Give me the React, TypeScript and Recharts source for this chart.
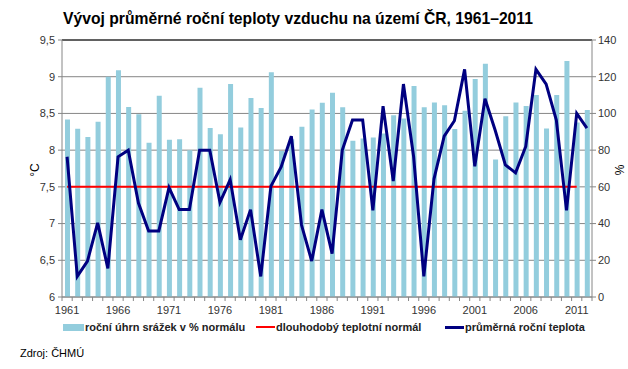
import React from 'react';
import { ComposedChart, Bar, Line, XAxis, YAxis, CartesianGrid, ReferenceLine } from 'recharts';

const years = [
  '1961', '1962', '1963', '1964', '1965', '1966', '1967', '1968', '1969', '1970',
  '1971', '1972', '1973', '1974', '1975', '1976', '1977', '1978', '1979', '1980',
  '1981', '1982', '1983', '1984', '1985', '1986', '1987', '1988', '1989', '1990',
  '1991', '1992', '1993', '1994', '1995', '1996', '1997', '1998', '1999', '2000',
  '2001', '2002', '2003', '2004', '2005', '2006', '2007', '2008', '2009', '2010',
  '2011', '2012',
];

// roční úhrn srážek v % normálu
const precipitation = [
  96.7, 91.6, 87.1, 95.5, 120, 123.5, 103.5, 99.6, 84, 109.6,
  85.6, 86, 80, 114, 92, 88.7, 116, 92.4, 108.4, 103,
  122.4, 79.6, 86, 92.7, 102.2, 105.8, 111.3, 103.3, 85.1, 86.4,
  86.9, 89, 99, 97.3, 115, 103.3, 106, 104.5, 91.5, 101.5,
  118.7, 127, 74.9, 98.5, 106, 104, 110, 91.8, 110, 128.5,
  95, 101.8,
];

// průměrná roční teplota (°C)
const temperature = [
  7.91, 6.28, 6.49, 7.01, 6.39, 7.91, 8.0, 7.28, 6.9, 6.9,
  7.49, 7.19, 7.19, 8.0, 8.0, 7.29, 7.6, 6.78, 7.19, 6.28,
  7.51, 7.77, 8.19, 6.98, 6.49, 7.19, 6.59, 8.0, 8.41, 8.41,
  7.18, 8.6, 7.58, 8.9, 7.91, 6.28, 7.61, 8.19, 8.4, 9.1,
  7.78, 8.7, 8.27, 7.8, 7.69, 8.05, 9.1, 8.9, 8.41, 7.18,
  8.5, 8.3,
];

// dlouhodobý teplotní normál (°C)
const normal: (number | null)[] = [
  7.5, 7.5, 7.5, 7.5, 7.5, 7.5, 7.5, 7.5, 7.5, 7.5,
  7.5, 7.5, 7.5, 7.5, 7.5, 7.5, 7.5, 7.5, 7.5, 7.5,
  7.5, 7.5, 7.5, 7.5, 7.5, 7.5, 7.5, 7.5, 7.5, 7.5,
  7.5, 7.5, 7.5, 7.5, 7.5, 7.5, 7.5, 7.5, 7.5, 7.5,
  7.5, 7.5, 7.5, 7.5, 7.5, 7.5, 7.5, 7.5, 7.5, 7.5,
  7.5, null,
];

const leftTicks = [6, 6.5, 7, 7.5, 8, 8.5, 9, 9.5];
const rightTicks = [0, 20, 40, 60, 80, 100, 120, 140];
const labelYears = ['1961', '1966', '1971', '1976', '1981', '1986', '1991', '1996', '2001', '2006', '2011'];

const title = 'Vývoj průměrné roční teploty vzduchu na území ČR, 1961–2011';
const legendPrecip = 'roční úhrn srážek v % normálu';
const legendNormal = 'dlouhodobý teplotní normál';
const legendTemp = 'průměrná roční teplota';
const source = 'Zdroj: ČHMÚ';

const data = years.map((y, i) => ({
  year: y,
  precip: precipitation[i],
  temp: temperature[i],
  normal: normal[i],
}));

const W = 628;
const H = 369;
const MARGIN = { top: 40, right: 0, bottom: 52, left: 32 };
const LEFT_W = 30;
const RIGHT_W = 36;
const X_H = 20;
const PLOT_W = W - MARGIN.left - MARGIN.right - LEFT_W - RIGHT_W;
const BAND = PLOT_W / years.length;

const FONT = '"Liberation Sans", Arial, sans-serif';
const GRID = '#868686';
const TEXT = '#333';
const BAR = '#93CDDD';
const NAVY = '#000080';
const RED = '#FF0000';

const XTick = (props: any) => {
  const { x, y, payload, index } = props;
  const show = labelYears.includes(String(payload.value));
  return (
    <g>
      <line x1={x - BAND / 2} x2={x - BAND / 2} y1={y} y2={y + 4} stroke={GRID} />
      {index === years.length - 1 && (
        <line x1={x + BAND / 2} x2={x + BAND / 2} y1={y} y2={y + 4} stroke={GRID} />
      )}
      {show && (
        <text x={x} y={y + 17} textAnchor="middle" fontSize={11} fill={TEXT} fontFamily={FONT}>
          {payload.value}
        </text>
      )}
    </g>
  );
};

const fmt = (v: number) => String(v).replace('.', ',');

export default function App() {
  return (
    <div style={{ position: 'absolute', left: 0, top: 0, width: W, height: H, background: '#fff', fontFamily: FONT }}>
      <div style={{ position: 'absolute', left: 63, top: 10, fontSize: 15.7, fontWeight: 'bold', lineHeight: '18px', color: '#000', whiteSpace: 'nowrap' }}>
        {title}
      </div>
      <ComposedChart width={W} height={H} data={data} margin={MARGIN} style={{ fontFamily: FONT }}>
        <CartesianGrid yAxisId="left" horizontal vertical={false} stroke={GRID} />
        <XAxis
          dataKey="year"
          height={X_H}
          interval={0}
          tickSize={0}
          tickMargin={0}
          tickLine={false}
          axisLine={{ stroke: GRID }}
          tick={<XTick />}
        />
        <YAxis
          yAxisId="left"
          orientation="left"
          width={LEFT_W}
          domain={[6, 9.5]}
          ticks={leftTicks}
          interval={0}
          tickFormatter={fmt}
          tickSize={4}
          tickMargin={3}
          tickLine={{ stroke: GRID }}
          axisLine={{ stroke: GRID }}
          tick={{ fontSize: 11, fill: TEXT }}
        />
        <YAxis
          yAxisId="right"
          orientation="right"
          width={RIGHT_W}
          domain={[0, 140]}
          ticks={rightTicks}
          interval={0}
          tickSize={4}
          tickMargin={2}
          tickLine={{ stroke: GRID }}
          axisLine={{ stroke: GRID }}
          tick={{ fontSize: 11, fill: TEXT }}
        />
        <ReferenceLine yAxisId="left" y={9.5} stroke="#000" strokeWidth={1} />
        <Bar yAxisId="right" dataKey="precip" fill={BAR} barSize={5} isAnimationActive={false} />
        <Line yAxisId="left" type="linear" dataKey="normal" stroke={RED} strokeWidth={2} dot={false} isAnimationActive={false} connectNulls={false} />
        <Line yAxisId="left" type="linear" dataKey="temp" stroke={NAVY} strokeWidth={3} dot={false} isAnimationActive={false} />
      </ComposedChart>
      <div style={{ position: 'absolute', left: 35, top: 170, transform: 'translate(-50%, -50%) rotate(-90deg)', fontSize: 12, color: '#000', whiteSpace: 'nowrap' }}>
        °C
      </div>
      <div style={{ position: 'absolute', left: 620, top: 170, transform: 'translate(-50%, -50%) rotate(-90deg)', fontSize: 12, color: '#000', whiteSpace: 'nowrap' }}>
        %
      </div>
      <div style={{ position: 'absolute', left: 0, top: 320, width: W, height: 14, fontSize: 11, fontWeight: 'bold', color: '#222' }}>
        <div style={{ position: 'absolute', left: 63, top: 4, width: 21, height: 7, background: BAR }} />
        <div style={{ position: 'absolute', left: 85, top: 0, lineHeight: '14px', whiteSpace: 'nowrap' }}>{legendPrecip}</div>
        <div style={{ position: 'absolute', left: 256, top: 6, width: 19, height: 2, background: RED }} />
        <div style={{ position: 'absolute', left: 276, top: 0, lineHeight: '14px', whiteSpace: 'nowrap' }}>{legendNormal}</div>
        <div style={{ position: 'absolute', left: 445, top: 5.5, width: 19, height: 3, background: NAVY }} />
        <div style={{ position: 'absolute', left: 465, top: 0, lineHeight: '14px', whiteSpace: 'nowrap' }}>{legendTemp}</div>
      </div>
      <div style={{ position: 'absolute', left: 20, top: 346, fontSize: 11, lineHeight: '14px', color: '#000', whiteSpace: 'nowrap' }}>
        {source}
      </div>
    </div>
  );
}
